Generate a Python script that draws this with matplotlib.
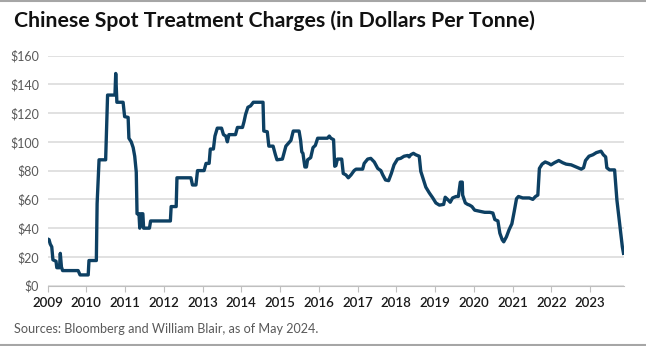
import matplotlib
matplotlib.use('Agg')
import matplotlib.pyplot as plt
from matplotlib.lines import Line2D

plt.rcParams.update({
    'font.family': ['Lato', 'DejaVu Sans'],
    'font.size': 9,
})

NAVY = '#0d4063'
GRID = '#d9d9d9'
TEXT_GRAY = '#595959'

# Data: decimal year, $/tonne
years = [
    2009.00, 2009.04, 2009.07, 2009.11, 2009.14, 2009.22, 2009.24, 2009.31, 2009.33, 2009.36,
    2009.39, 2009.79, 2009.84, 2010.05, 2010.07, 2010.26, 2010.28, 2010.33, 2010.50, 2010.55,
    2010.74, 2010.76, 2010.79, 2010.95, 2010.99, 2011.08, 2011.10, 2011.16, 2011.21, 2011.25,
    2011.29, 2011.31, 2011.36, 2011.38, 2011.41, 2011.46, 2011.48, 2011.63, 2011.66, 2012.17,
    2012.19, 2012.32, 2012.34, 2012.70, 2012.74, 2012.83, 2012.87, 2013.04, 2013.09, 2013.17,
    2013.20, 2013.28, 2013.32, 2013.38, 2013.49, 2013.54, 2013.60, 2013.64, 2013.68, 2013.85,
    2013.90, 2014.03, 2014.07, 2014.11, 2014.17, 2014.24, 2014.31, 2014.56, 2014.58, 2014.67,
    2014.71, 2014.82, 2014.88, 2014.92, 2015.06, 2015.15, 2015.28, 2015.34, 2015.49, 2015.53,
    2015.56, 2015.59, 2015.64, 2015.68, 2015.71, 2015.79, 2015.85, 2015.91, 2015.97, 2016.22,
    2016.27, 2016.31, 2016.38, 2016.41, 2016.44, 2016.48, 2016.59, 2016.63, 2016.70, 2016.76,
    2016.83, 2016.91, 2016.96, 2017.13, 2017.17, 2017.26, 2017.34, 2017.43, 2017.52, 2017.60,
    2017.65, 2017.72, 2017.80, 2017.87, 2017.94, 2018.03, 2018.11, 2018.20, 2018.29, 2018.33,
    2018.37, 2018.44, 2018.50, 2018.59, 2018.63, 2018.70, 2018.76, 2018.85, 2018.94, 2019.02,
    2019.11, 2019.22, 2019.26, 2019.32, 2019.39, 2019.45, 2019.54, 2019.60, 2019.65, 2019.70,
    2019.71, 2019.78, 2019.84, 2019.89, 2019.95, 2020.02, 2020.10, 2020.19, 2020.28, 2020.41,
    2020.49, 2020.54, 2020.62, 2020.67, 2020.73, 2020.77, 2020.84, 2020.91, 2020.98, 2021.04,
    2021.10, 2021.15, 2021.26, 2021.43, 2021.52, 2021.59, 2021.65, 2021.69, 2021.76, 2021.84,
    2021.93, 2021.99, 2022.08, 2022.19, 2022.29, 2022.38, 2022.51, 2022.64, 2022.77, 2022.83,
    2022.88, 2022.97, 2023.07, 2023.16, 2023.28, 2023.34, 2023.40, 2023.43, 2023.50, 2023.63,
    2023.69, 2023.76, 2023.83, 2023.86,
]
charges = [
    32.5, 32, 29, 27, 18, 17, 12.5, 12.5, 22.5, 13,
    10.5, 10.5, 7.5, 7.5, 17.5, 17.5, 57, 87.5, 87.5, 132.5,
    132.5, 147.5, 127.5, 127.5, 117.5, 117, 102.5, 100, 96, 90,
    79, 50, 50, 40, 50, 50, 40, 40, 45, 45,
    55, 55, 75, 75, 70, 70, 80, 80, 85, 85,
    95, 95, 104, 109.5, 109.5, 105, 104, 100, 105, 105,
    110, 110, 114, 119, 124, 125, 127.5, 127.5, 107.5, 107,
    97, 97, 91, 87.5, 88, 97, 101, 107.5, 107.5, 101,
    93, 92, 82.5, 82.5, 87.5, 89, 96, 97.5, 102.5, 102.5,
    104, 102.5, 101.5, 83, 83.5, 88, 88, 78, 77, 75,
    77, 80, 81, 81, 85, 88, 88.5, 86, 81.5, 80,
    77, 73.5, 73, 78, 84, 88, 88.5, 90, 90.5, 89.5,
    91, 92, 91, 90, 79.5, 73.5, 68.5, 64.5, 61, 57.5,
    56, 56.5, 61.5, 60, 58, 61, 62, 62, 72, 72,
    63, 57.5, 56.5, 56, 55, 52.5, 52, 51.5, 51, 51,
    50.5, 46, 45, 36.5, 32, 30.5, 34, 39, 43, 51.5,
    60.5, 62, 61, 61, 60, 62, 63, 81.5, 84.5, 86,
    85, 84, 85.5, 87, 85.5, 84.5, 84, 82.5, 81, 82,
    87, 90, 91, 92.5, 93.5, 91, 89.5, 82, 80.5, 80.5,
    59.5, 43, 27, 22.5,
]

year_ticks = list(range(2009, 2024))
y_ticks = [0, 20, 40, 60, 80, 100, 120, 140, 160]

fig = plt.figure(figsize=(6.46, 3.46), dpi=100)
ax = fig.add_axes([47.5 / 646, (346 - 285.7) / 346, 576 / 646, 230.2 / 346])

ax.plot(years, charges, color=NAVY, lw=2.4, solid_joinstyle='round', zorder=3)

ax.set_xlim(2009, 2023.86)
ax.set_ylim(0, 160)
ax.set_yticks(y_ticks)
ax.set_yticklabels([f'${v}' for v in y_ticks], color=TEXT_GRAY, fontsize=9)
ax.set_xticks(year_ticks)
ax.set_xticklabels([str(y) for y in year_ticks], color='#1a1a1a', fontsize=9.5,
                   fontweight='semibold')
ax.tick_params(axis='y', length=0, pad=6)
ax.tick_params(axis='x', length=4, width=0.8, color='#bfbfbf', pad=4)
ax.grid(axis='y', color=GRID, lw=1.1, zorder=0)
for s in ['top', 'right', 'left']:
    ax.spines[s].set_visible(False)
ax.spines['bottom'].set_color('#bfbfbf')
ax.spines['bottom'].set_linewidth(0.8)

fig.text(14 / 646, 1 - 21 / 346, 'Chinese Spot Treatment Charges (in Dollars Per Tonne)',
         fontsize=15.3, fontweight='bold', color='#111111', va='center', ha='left')
fig.text(14 / 646, 1 - 329 / 346, 'Sources: Bloomberg and William Blair, as of May 2024.',
         fontsize=9.1, color=TEXT_GRAY, va='center', ha='left')

# thin gray rules at top and bottom
fig.add_artist(Line2D([0, 1], [1 - 0.8 / 346, 1 - 0.8 / 346], color='#a6a6a6', lw=1.5))
fig.add_artist(Line2D([0, 1], [1.5 / 346, 1.5 / 346], color='#a6a6a6', lw=1.5))

fig.savefig('out.png', dpi=100, facecolor='white')
